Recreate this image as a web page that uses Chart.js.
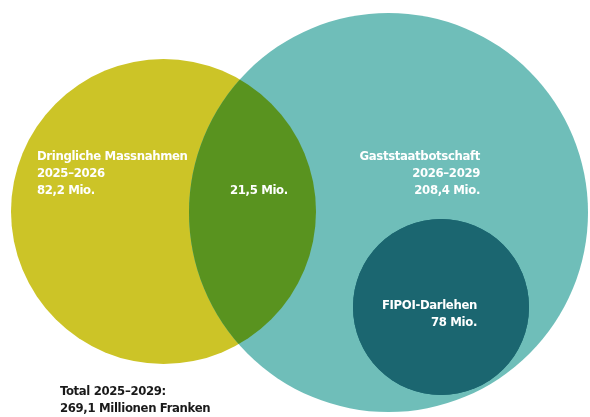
<!DOCTYPE html>
<html>
<head>
<meta charset="utf-8">
<script src="https://cdn.jsdelivr.net/npm/chart.js@4/dist/chart.umd.min.js"></script>
<style>
html,body{margin:0;padding:0;background:#fff;}
#wrap{width:590px;height:417px;position:relative;}
</style>
</head>
<body>
<div id="wrap"><canvas id="c" width="590" height="417"></canvas></div>
<script>
// Sets (circles), in a 590 x 417 unit space
const setNames  = ["Dringliche Massnahmen", "Gaststaatbotschaft", "FIPOI-Darlehen"];
const setValues = [82.2, 208.4, 78];            // Mio. CHF
const setPeriods = ["2025–2026", "2026–2029", ""];
const overlapValue = 21.5;                       // Mio. CHF
const totalLabel = ["Total 2025–2029:", "269,1 Millionen Franken"];

const circleX = [163.5, 388.5, 441];
const circleY = [211.5, 212.5, 307];
const circleR = [152.5, 199.5, 88];

const colors = ["#CCC427", "#6FBEB9", "#1B6670"];
const overlapColor = "#59931F";

const fmt = v => String(v).replace(".", ",") + " Mio.";

const FONT = 'bold 13px "DejaVu Sans Condensed", "Liberation Sans Narrow", sans-serif';

// text blocks: [lines, x, y(first line), align, color]
const textBlocks = [
  [[setNames[0], setPeriods[0], fmt(setValues[0])], 37, 157, "left", "#fff"],
  [[fmt(overlapValue)], 230, 191, "left", "#fff"],
  [[setNames[1], setPeriods[1], fmt(setValues[1])], 480, 157, "right", "#fff"],
  [[setNames[2], fmt(setValues[2])], 477, 306, "right", "#fff"],
  [totalLabel, 60, 392, "left", "#1a1a1a"]
];

const overlapPlugin = {
  id: "overlap",
  afterDatasetsDraw(chart) {
    const a = chart.getDatasetMeta(2).data[0];
    const b = chart.getDatasetMeta(1).data[0];
    if (!a || !b || !a.options.radius) return;
    const ctx = chart.ctx;
    ctx.save();
    ctx.beginPath();
    ctx.arc(a.x, a.y, a.options.radius, 0, Math.PI * 2);
    ctx.clip();
    ctx.beginPath();
    ctx.arc(b.x, b.y, b.options.radius, 0, Math.PI * 2);
    ctx.fillStyle = overlapColor;
    ctx.fill();
    ctx.restore();
    // redraw FIPOI circle on top
    chart.getDatasetMeta(0).data[0].draw(ctx, chart.chartArea);
  }
};

const labelPlugin = {
  id: "labels",
  afterDraw(chart) {
    const ctx = chart.ctx;
    const xs = chart.scales.x, ys = chart.scales.y;
    ctx.save();
    ctx.font = FONT;
    if ("letterSpacing" in ctx) ctx.letterSpacing = "-0.35px";
    ctx.textBaseline = "middle";
    textBlocks.forEach(([lines, x, y, align, color]) => {
      ctx.fillStyle = color;
      ctx.textAlign = align;
      lines.forEach((t, i) => {
        if (!t) return;
        ctx.fillText(t, xs.getPixelForValue(x), ys.getPixelForValue(y + i * 17));
      });
    });
    ctx.restore();
  }
};

// dataset order: index 0 drawn last (on top)
const order = [2, 1, 0];
const datasets = order.map(i => ({
  label: setNames[i],
  data: [{x: circleX[i], y: circleY[i], r: 0, R: circleR[i]}],
  backgroundColor: colors[i],
  borderWidth: 0,
  hoverRadius: 0,
  hoverBorderWidth: 0,
  clip: false
}));

const chart = new Chart(document.getElementById("c"), {
  type: "bubble",
  data: { datasets },
  options: {
    responsive: false,
    animation: false,
    events: [],
    layout: { padding: 0, autoPadding: false },
    plugins: { legend: { display: false }, tooltip: { enabled: false } },
    scales: {
      x: { type: "linear", min: 0, max: 590, display: false },
      y: { type: "linear", min: 0, max: 417, reverse: true, display: false }
    }
  },
  plugins: [overlapPlugin, labelPlugin]
});

// convert data-unit radii into pixel radii through the x scale
const xs = chart.scales.x;
chart.data.datasets.forEach(ds => ds.data.forEach(p => {
  p.r = Math.abs(xs.getPixelForValue(p.x + p.R) - xs.getPixelForValue(p.x));
}));
chart.update();
</script>
</body>
</html>
